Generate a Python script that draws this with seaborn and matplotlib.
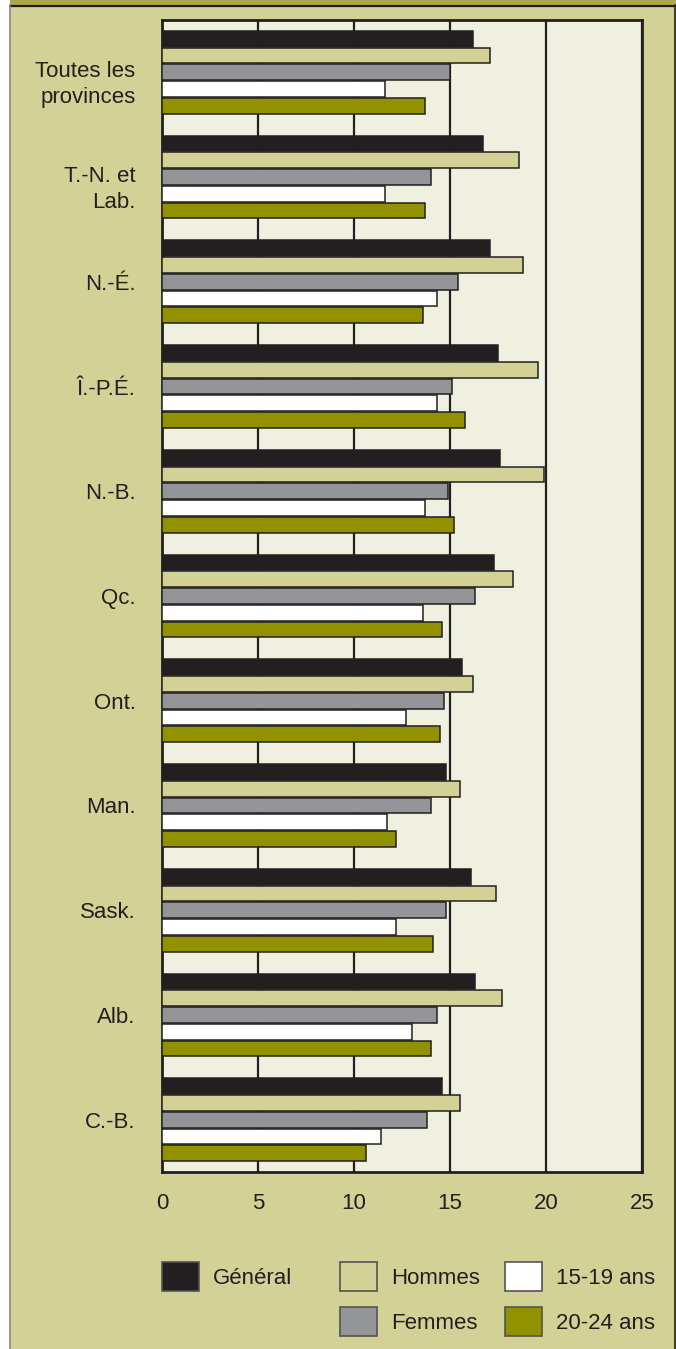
import pandas as pd
import seaborn as sns
from matplotlib import pyplot as plt
from matplotlib import transforms
from matplotlib.patches import Patch, Rectangle
from matplotlib.lines import Line2D

provinces = ['Toutes les\nprovinces', 'T.-N. et\nLab.', 'N.-É.', 'Î.-P.É.', 'N.-B.', 'Qc.',
             'Ont.', 'Man.', 'Sask.', 'Alb.', 'C.-B.']
groupes = ['Général', 'Hommes', 'Femmes', '15-19 ans', '20-24 ans']

general = [16.2, 16.7, 17.1, 17.5, 17.6, 17.3, 15.6, 14.8, 16.1, 16.3, 14.6]
hommes = [17.1, 18.6, 18.8, 19.6, 19.9, 18.3, 16.2, 15.5, 17.4, 17.7, 15.5]
femmes = [15.0, 14.0, 15.4, 15.1, 14.9, 16.3, 14.7, 14.0, 14.8, 14.3, 13.8]
ans_15_19 = [11.6, 11.6, 14.3, 14.3, 13.7, 13.6, 12.7, 11.7, 12.2, 13.0, 11.4]
ans_20_24 = [13.7, 13.7, 13.6, 15.8, 15.2, 14.6, 14.5, 12.2, 14.1, 14.0, 10.6]

x_ticks = [0, 5, 10, 15, 20, 25]

dark = '#231f20'
khaki = '#d2d297'
cream = '#f0f0e0'
olive_top = '#aba94f'
couleurs = {'Général': dark, 'Hommes': khaki, 'Femmes': '#939598',
            '15-19 ans': '#ffffff', '20-24 ans': '#929200'}

df = pd.DataFrame({'province': provinces, 'Général': general, 'Hommes': hommes,
                   'Femmes': femmes, '15-19 ans': ans_15_19, '20-24 ans': ans_20_24})
df = df.melt(id_vars='province', value_vars=groupes, var_name='groupe', value_name='valeur')

sns.set_theme(style='white')
plt.rcParams['font.family'] = ['Liberation Sans', 'DejaVu Sans']
plt.rcParams['text.color'] = dark
FS = 16

W, H = 676, 1349
fig = plt.figure(figsize=(W / 100, H / 100), dpi=100, facecolor='white')

# cadre de fond
fig.patches.append(Rectangle((10 / W, 0), 1 - 10 / W, 1, transform=fig.transFigure,
                             facecolor=khaki, edgecolor='none', zorder=-10))
fig.patches.append(Rectangle((10 / W, 1 - 5 / H), 1 - 10 / W, 5 / H, transform=fig.transFigure,
                             facecolor=olive_top, edgecolor='none', zorder=-9))
fig.lines.append(Line2D([10 / W, 1], [1 - 5.5 / H, 1 - 5.5 / H], transform=fig.transFigure,
                        color=dark, lw=1.6))
fig.lines.append(Line2D([10 / W, 10 / W], [0, 1 - 5 / H], transform=fig.transFigure,
                        color='#8a8a80', lw=1.2))
fig.lines.append(Line2D([674.5 / W, 674.5 / W], [0, 1 - 5 / H], transform=fig.transFigure,
                        color=dark, lw=1.2))

ax = fig.add_axes([162 / W, 1 - 1172 / H, 480 / W, 1152 / H])
ax.set_facecolor(cream)

sns.barplot(data=df, y='province', x='valeur', hue='groupe', hue_order=groupes,
            palette=couleurs, saturation=1, orient='h', width=0.8, gap=0.06,
            edgecolor=dark, linewidth=1.1, legend=False, ax=ax, zorder=3)

ax.set_xlim(0, 25)
ax.set_xticks(x_ticks)
ax.set_xticklabels([str(t) for t in x_ticks])
ax.set_xlabel('')
ax.set_ylabel('')
ax.xaxis.grid(True, color=dark, linewidth=1.6)
ax.yaxis.grid(False)
ax.set_axisbelow(True)
for s in ax.spines.values():
    s.set_visible(True)
    s.set_color(dark)
    s.set_linewidth(2)
ax.tick_params(axis='x', length=0, pad=15, labelsize=FS, labelcolor=dark)
ax.tick_params(axis='y', length=0, pad=19, labelsize=FS, labelcolor=dark)
decalage = transforms.ScaledTranslation(0, -7 / 100, fig.dpi_scale_trans)
for lab in ax.get_yticklabels():
    lab.set_linespacing(1.32)
    if '\n' in lab.get_text():
        lab.set_transform(lab.get_transform() + decalage)


def carre(nom):
    return Patch(facecolor=couleurs[nom], edgecolor='#555550', linewidth=1.2, label=nom)


colonnes = [(['Général'], 162), (['Hommes', 'Femmes'], 340), (['15-19 ans', '20-24 ans'], 505)]
for noms, x0 in colonnes:
    fig.legend(handles=[carre(n) for n in noms], loc='upper left',
               bbox_to_anchor=(x0 / W, 1 - 1262 / H), frameon=False, fontsize=FS,
               handlelength=1.665, handleheight=1.63, handletextpad=0.62,
               labelspacing=0.72, borderpad=0, borderaxespad=0)

fig.savefig('out.png', dpi=100, facecolor=fig.get_facecolor())
